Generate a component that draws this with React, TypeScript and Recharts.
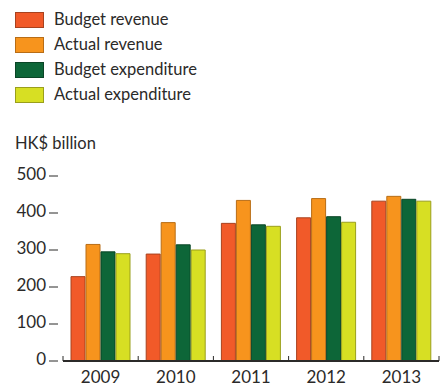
import React from 'react';
import { BarChart, Bar, XAxis, YAxis } from 'recharts';

// HK$ billion, fiscal years
const years = ['2009', '2010', '2011', '2012', '2013'];
const budgetRevenue = [228, 289, 372, 387, 432];
const actualRevenue = [315, 374, 434, 439, 445];
const budgetExpenditure = [295, 314, 368, 390, 437];
const actualExpenditure = [290, 300, 364, 375, 432];
const yTicks = [0, 100, 200, 300, 400, 500];

const series = [
  { key: 'budgetRevenue', name: 'Budget revenue', fill: '#f15a29', stroke: '#a8421f' },
  { key: 'actualRevenue', name: 'Actual revenue', fill: '#f7941d', stroke: '#b86d16' },
  { key: 'budgetExpenditure', name: 'Budget expenditure', fill: '#0d6638', stroke: '#0a4526' },
  { key: 'actualExpenditure', name: 'Actual expenditure', fill: '#d7df23', stroke: '#9a9f1c' },
];

const data = years.map((year, i) => ({
  year,
  budgetRevenue: budgetRevenue[i],
  actualRevenue: actualRevenue[i],
  budgetExpenditure: budgetExpenditure[i],
  actualExpenditure: actualExpenditure[i],
}));

const W = 445;
const H = 387;
const LEFT_W = 63;
const RIGHT_W = 6;
const halfBand = (W - LEFT_W - RIGHT_W) / years.length / 2;
const FONT = 'Lato, "Open Sans", sans-serif';
const INK = '#2b2a29';

const LeftTick = ({ x, y, payload }: any) => (
  <g>
    <line x1={x - 14} x2={x - 5} y1={y} y2={y} stroke={INK} strokeWidth={1} />
    <text x={x - 17} y={y + 4} textAnchor="end" fontSize={17} fill={INK} fontFamily={FONT}>
      {payload.value}
    </text>
  </g>
);

const RightTick = ({ x, y }: any) => (
  <line x1={x + 3} x2={x + 5} y1={y} y2={y} stroke="#555" strokeWidth={1} />
);

const BottomTick = ({ x, y, payload, index }: any) => (
  <g>
    <line x1={x - halfBand} x2={x - halfBand} y1={y - 5} y2={y} stroke={INK} strokeWidth={1} />
    {index === years.length - 1 && (
      <line x1={x + halfBand} x2={x + halfBand} y1={y - 5} y2={y} stroke={INK} strokeWidth={1} />
    )}
    <text x={x} y={y + 22} textAnchor="middle" fontSize={17} fill={INK} fontFamily={FONT}>
      {payload.value}
    </text>
  </g>
);

export default function App() {
  return (
    <div style={{ position: 'absolute', left: 0, top: 0, width: W, height: H, background: '#fff', fontFamily: FONT }}>
      <div style={{ position: 'absolute', left: 15, top: 7 }}>
        {series.map((s) => (
          <div key={s.key} style={{ display: 'flex', alignItems: 'center', height: 25 }}>
            <div
              style={{
                width: 27,
                height: 14,
                background: s.fill,
                border: `1px solid ${s.stroke}`,
              }}
            />
            <span style={{ marginLeft: 10, fontSize: 16.5, color: INK, lineHeight: '17px' }}>{s.name}</span>
          </div>
        ))}
      </div>
      <div style={{ position: 'absolute', left: 15, top: 133, fontSize: 16.5, color: INK, lineHeight: '20px' }}>
        HK$ billion
      </div>
      <BarChart
        width={W}
        height={H}
        data={data}
        margin={{ top: 176, right: 0, bottom: 0, left: 0 }}
        barSize={14}
        barGap={1}
      >
        <XAxis
          dataKey="year"
          height={26}
          axisLine={{ stroke: INK, strokeWidth: 2 }}
          tickLine={false}
          tickSize={0}
          tickMargin={0}
          tick={<BottomTick />}
          interval={0}
        />
        <YAxis
          yAxisId="l"
          width={LEFT_W}
          domain={[0, 500]}
          ticks={yTicks}
          axisLine={false}
          tickLine={false}
          tickSize={0}
          tickMargin={0}
          tick={<LeftTick />}
        />
        <YAxis
          yAxisId="r"
          orientation="right"
          width={RIGHT_W}
          domain={[0, 500]}
          ticks={yTicks}
          axisLine={false}
          tickLine={false}
          tickSize={0}
          tickMargin={0}
          tick={<RightTick />}
        />
        {series.map((s) => (
          <Bar
            key={s.key}
            yAxisId="l"
            dataKey={s.key}
            name={s.name}
            fill={s.fill}
            stroke={s.stroke}
            strokeWidth={1}
            isAnimationActive={false}
          />
        ))}
      </BarChart>
    </div>
  );
}
